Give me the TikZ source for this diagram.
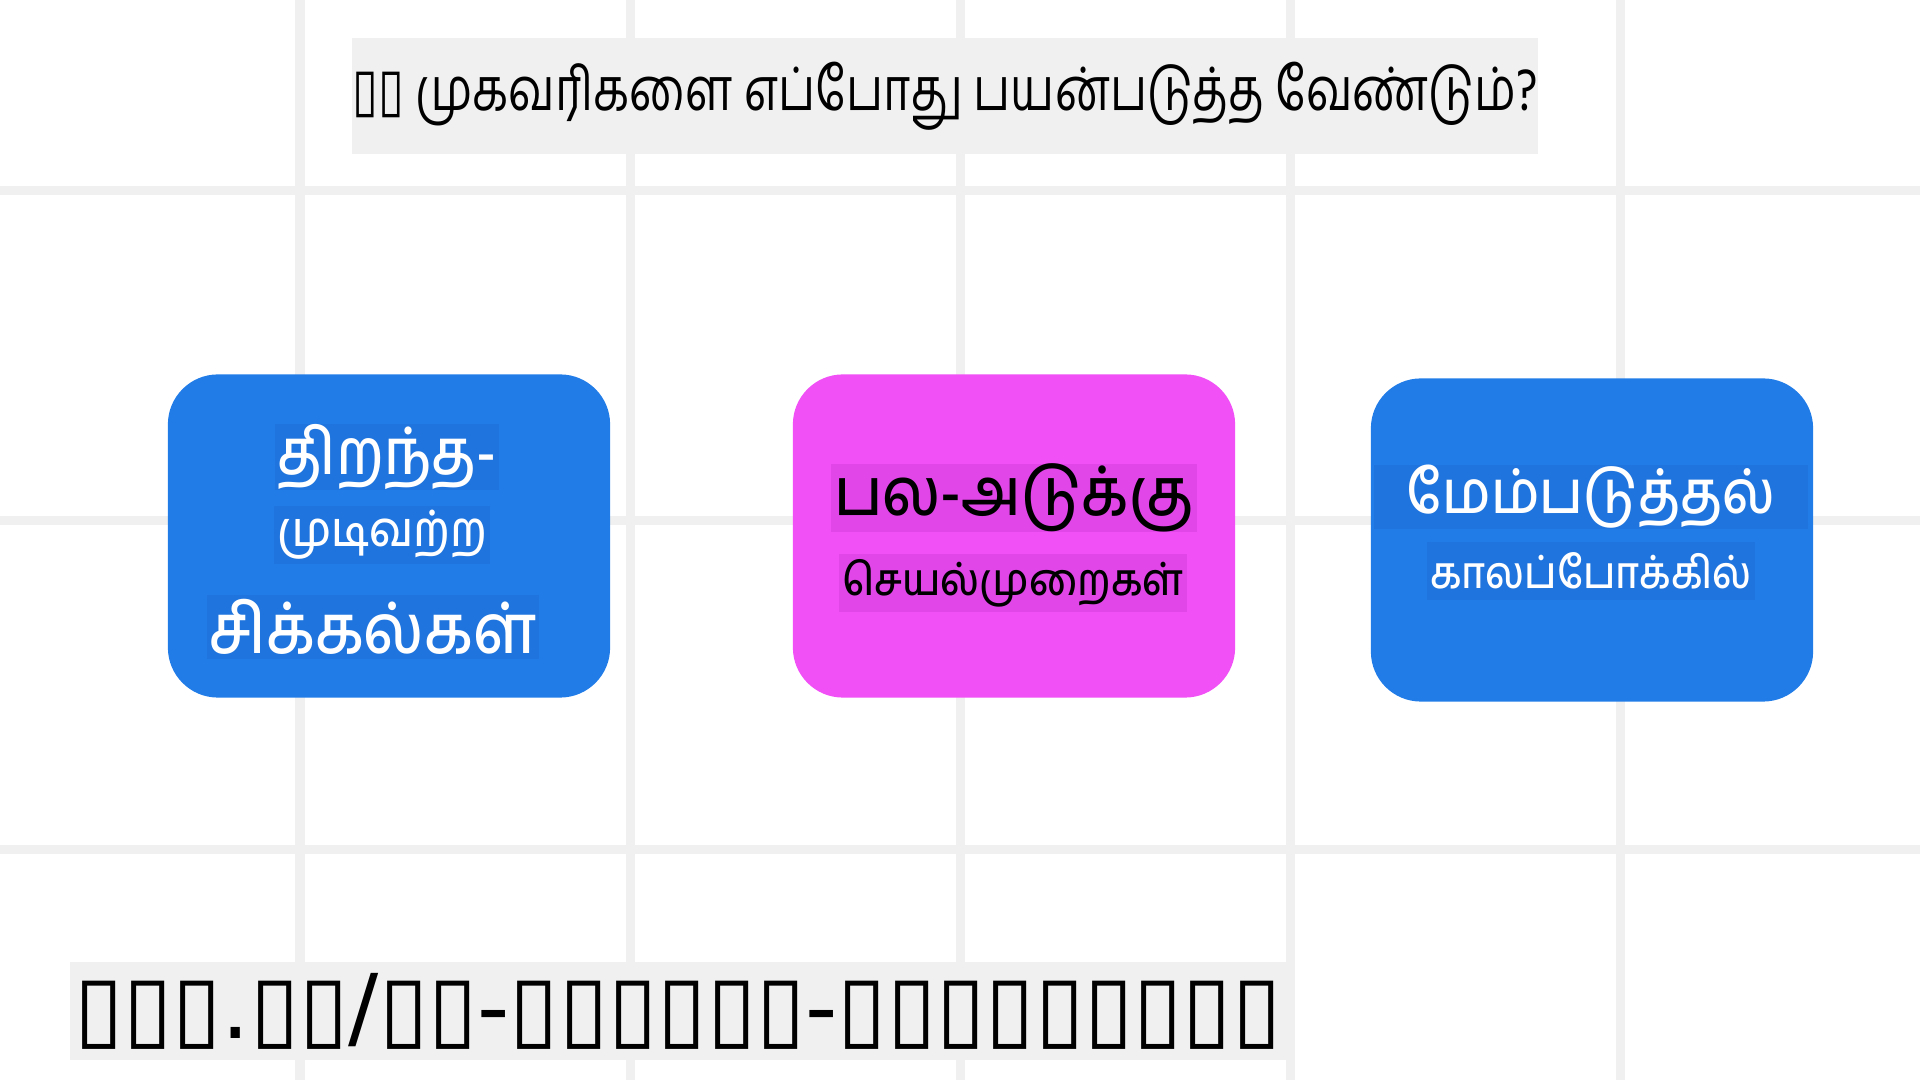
\documentclass[tikz,border=0pt]{standalone}
\usepackage{fontspec}
\setmainfont{DejaVu Sans}
\newfontfamily\tamilfont[Script=Tamil]{Hind Madurai}
\newfontfamily\tamilmed[Script=Tamil]{Hind Madurai Medium}
\newfontfamily\tofufont{DejaVu Sans}
\usetikzlibrary{positioning}

\definecolor{gridgray}{HTML}{F0F0F0}
\definecolor{cardblue}{HTML}{217CE8}
\definecolor{hlblue}{HTML}{1F74DD}
\definecolor{cardpink}{HTML}{F050F5}
\definecolor{hlpink}{HTML}{E046E8}

% narrow the Tamil glyphs a little
\newcommand{\squeeze}[2][0.9]{\scalebox{#1}[1]{#2}}
\newcommand{\tsize}[1]{\tamilfont\fontsize{#1}{#1}\selectfont}
\newcommand{\msize}[1]{\tamilmed\fontsize{#1}{#1}\selectfont}

\begin{document}
\begin{tikzpicture}[
    x=0.01cm, y=-0.01cm,
    gridline/.style={gridgray, line width=0.09cm},
    card/.style={rounded corners=0.5cm, minimum width=4.42cm,
        minimum height=3.23cm, inner sep=0pt},
    hl/.style={inner xsep=0.03cm, inner ysep=0pt},
    bigtxt/.style={hl, minimum height=0.64cm},
    smalltxt/.style={hl, minimum height=0.57cm},
    banner/.style={fill=gridgray, inner sep=0pt},
]
\useasboundingbox (0,0) rectangle (1920,1080);

% Background grid
\foreach \gx in {300,630,960,1290,1620} {
    \draw[gridline] (\gx,0) -- (\gx,1080);
}
\foreach \gy in {191,521,850} {
    \draw[gridline] (0,\gy) -- (1920,\gy);
}

% Title
\node[banner, minimum width=11.83cm, minimum height=1.15cm,
    font=\tsize{17pt}] (title) at (945,96)
    {\squeeze[0.784]{{\tofufont ▯▯} முகவரிகளை எப்போது பயன்படுத்த வேண்டும்?}};

% Three cards
\node[card, fill=cardblue] (open) at (389,536) {};
\node[card, fill=cardpink] (multi) at (1014,536) {};
\node[card, fill=cardblue] (opt) at (1592,540) {};

% Card texts
\node[bigtxt, fill=hlblue, text=white, font=\msize{18pt}] (open1)
    at (387,457) {\squeeze{திறந்த-}};
\node[smalltxt, fill=hlblue, text=white, font=\msize{13.8pt}] (open2)
    at (382,535) {\squeeze{முடிவற்ற}};
\node[bigtxt, fill=hlblue, text=white, font=\msize{19.5pt}] (open3)
    at (373,627) {\squeeze{சிக்கல்கள்}};

\node[bigtxt, fill=hlpink, font=\msize{18.8pt}] (multi1)
    at (1014,498) {\squeeze{பல-அடுக்கு}};
\node[smalltxt, fill=hlpink, font=\msize{12.6pt}] (multi2)
    at (1013,583) {\squeeze{செயல்முறைகள்}};

\node[bigtxt, fill=hlblue, text=white, font=\msize{17pt}, inner xsep=0.33cm]
    (opt1) at (1591,497) {\squeeze{மேம்படுத்தல்}};
\node[smalltxt, fill=hlblue, text=white, font=\msize{12.6pt}] (opt2)
    at (1591,571) {\squeeze{காலப்போக்கில்}};

% Link line
\node[banner, minimum width=12.15cm, minimum height=0.97cm] (link) at (678,1011)
    {\resizebox*{12.07cm}{0.76cm}{\tofufont ▯▯▯.▯▯/▯▯-▯▯▯▯▯▯-▯▯▯▯▯▯▯▯▯}};
\end{tikzpicture}
\end{document}
